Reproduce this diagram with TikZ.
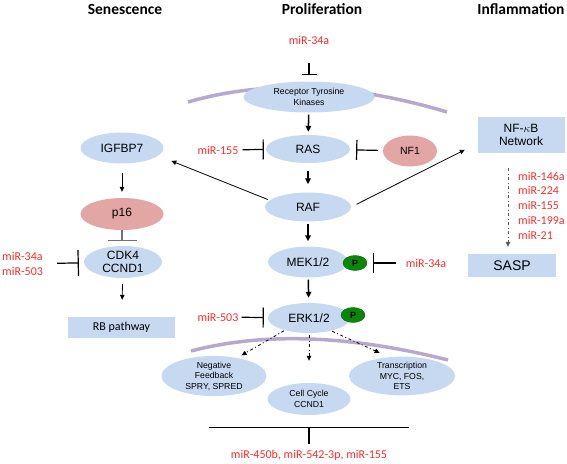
\documentclass[tikz,border=0pt]{standalone}
\usepackage{fontspec}
\setsansfont{Liberation Sans}
\newfontfamily\calib{Carlito}
\usetikzlibrary{shapes.geometric,arrows.meta}

\definecolor{cellblue}{HTML}{C6D9F1}
\definecolor{cellpink}{HTML}{E2A6A4}
\definecolor{mirred}{HTML}{FF2B2B}
\definecolor{membrane}{HTML}{B7A8CF}
\definecolor{phosgreen}{HTML}{0A860A}

\begin{document}
\begin{tikzpicture}[x=1pt,y=-1pt,
  prot/.style={ellipse, fill=cellblue, inner sep=0pt, align=center, minimum width=#1,
    minimum height=30pt, font=\fontsize{12}{13.5}\selectfont\sffamily},
  prot/.default=83pt,
  smalltext/.style={font=\fontsize{8.7}{10.5}\selectfont\sffamily},
  pinkfill/.style={fill=cellpink},
  pbox/.style={rectangle, fill=cellblue, inner sep=0pt, align=center},
  mir/.style={text=mirred, inner sep=0pt, font=\fontsize{12}{14.8}\selectfont\calib},
  title/.style={inner sep=0pt, font=\fontsize{15.5}{18}\selectfont\calib\bfseries},
  phos/.style={ellipse, fill=phosgreen, draw=phosgreen!75!black, minimum width=24pt,
    minimum height=15pt, inner sep=0pt, font=\fontsize{9}{10}\selectfont\sffamily\bfseries},
  act/.style={-{Triangle[length=6pt,width=5.5pt]}, line width=1.5pt},
  thinact/.style={-{Triangle[length=5pt,width=4.5pt]}, line width=0.8pt},
  inh/.style={-{Bar[width=#1,line width=1.2pt]}, line width=1.2pt},
  inh/.default=20pt,
  dotarrow/.style={-{Triangle[length=5pt,width=4.5pt]}, line width=0.8pt,
    dash pattern=on 3pt off 2.5pt on 1pt off 2.5pt},
  membrane/.style={draw=membrane, line width=3.5pt}]

\useasboundingbox (0,0) rectangle (567,463);

% column titles
\node[title] (tsen) at (125,9) {Senescence};
\node[title] (tpro) at (322,9) {Proliferation};
\node[title] (tinf) at (521,9) {Inflammation};

% membranes
\draw[membrane] (188,102) .. controls (264,80) and (350,83) .. (447,112);
\draw[membrane] (191,351) .. controls (264,332) and (349,335) .. (448,360);

% proliferation column
\node[mir] (m34top) at (309,40) {miR-34a};
\node[prot=131pt, smalltext, minimum height=31pt] (rtk) at (309,97) {Receptor Tyrosine\\Kinases};
\node[prot=84pt, minimum height=28pt] (ras) at (308,149) {RAS};
\node[prot=86pt, minimum height=29pt] (raf) at (308,207) {RAF};
\node[prot=80pt, minimum height=31pt] (mek) at (308,262) {MEK1/2};
\node[prot=82pt] (erk) at (309,318) {ERK1/2};
\node[phos] (pmek) at (355,263) {P};
\node[phos] (perk) at (353,315) {P};

\node[prot=54pt, pinkfill, minimum height=31pt, font=\fontsize{10.5}{12}\selectfont\sffamily] (nf1) at (410,151) {NF1};
\node[mir] (m155) at (218,150) {miR-155};
\node[mir] (m34mek) at (426,263) {miR-34a};
\node[mir] (m503) at (218,317) {miR-503};

\draw[inh=15pt, shorten <=19pt, shorten >=6pt] (m34top) -- (rtk);
\draw[act, shorten <=2pt, shorten >=3pt] (rtk) -- (ras);
\draw[act, shorten <=8pt, shorten >=8pt] (ras) -- (raf);
\draw[act, shorten <=2pt, shorten >=5pt] (raf) -- (mek);
\draw[act, shorten <=2pt, shorten >=5pt] (mek) -- (erk);
\draw[inh, shorten <=4pt, shorten >=2pt] (m155) -- (ras);
\draw[inh, shorten <=5pt, shorten >=6pt] (nf1) -- (ras);
\draw[inh, shorten <=10pt, shorten >=6pt] (m34mek) -- (pmek);
\draw[inh, shorten <=3pt, shorten >=4pt] (m503) -- (erk);

% ERK targets
\node[prot=105pt, smalltext, minimum height=32pt] (negfb) at (214,376) {Negative\\Feedback\\SPRY, SPRED};
\node[prot=83pt, smalltext, minimum height=32pt] (cellcyc) at (309,399) {Cell Cycle\\CCND1};
\node[prot=106pt, smalltext, minimum height=32pt] (transc) at (402,376) {Transcription\\MYC, FOS,\\ETS};
\draw[dotarrow, shorten <=1pt, shorten >=5pt] (erk.207) -- (negfb.38);
\draw[dotarrow, shorten <=2pt, shorten >=22pt] (erk) -- (cellcyc);
\draw[dotarrow, shorten <=1pt, shorten >=10pt] (erk.-30) -- (transc.125);

\node[mir] (mbot) at (309,455) {miR-450b, miR-542-3p, miR-155};
\draw[inh=200pt, shorten <=6pt, shorten >=12pt] (mbot) -- (cellcyc);

% senescence column
\node[prot, minimum height=31pt] (igfbp) at (122,148) {IGFBP7};
\node[prot, pinkfill, minimum height=32pt] (p16) at (122,214) {p16};
\node[prot=78pt, minimum height=32pt] (cdk) at (123,262) {CDK4\\CCND1};
\node[pbox, minimum width=107pt, minimum height=21pt, font=\fontsize{12}{14}\selectfont\calib] (rb) at (121.5,327.5) {RB pathway};
\node[mir, align=left, anchor=west] (m34cdk) at (2,264) {miR-34a\\miR-503};

\draw[thinact, shorten <=9pt, shorten >=6pt] (igfbp) -- (p16);
\draw[inh=29pt, draw=black!55, shorten >=5pt] (p16) -- (p16 |- cdk.north);
\draw[inh=26pt, shorten <=14pt, shorten >=5pt] (m34cdk) -- (cdk);
\draw[thinact, shorten <=6pt, shorten >=17pt] (cdk) -- (rb);
\draw[thinact, shorten <=2pt, shorten >=14pt] (raf.170) -- (igfbp.-12);

% inflammation column
\node[pbox, minimum width=87pt, minimum height=36pt, font=\fontsize{12}{13.5}\selectfont\sffamily] (nfkb) at (521,135) {NF-$\kappa$B\\Network};
\node[pbox, minimum width=88pt, minimum height=23pt, font=\fontsize{14}{16}\selectfont\sffamily] (sasp) at (512,265.5) {SASP};
\node[mir, align=left, anchor=west] (mlist) at (518,205.5) {miR-146a\\miR-224\\miR-155\\miR-199a\\miR-21};
\draw[thinact, shorten <=6pt, shorten >=14pt] (raf.east) -- (nfkb.191);
\draw[dotarrow, draw=black!65, shorten <=15pt, shorten >=7pt]
  ([xshift=-13pt]nfkb.south) -- ([xshift=-4pt]sasp.north);

\end{tikzpicture}
\end{document}
